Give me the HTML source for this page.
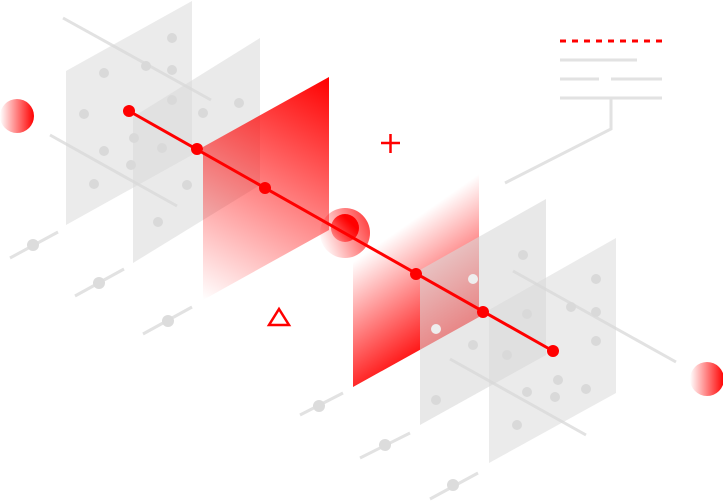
<!DOCTYPE html>
<html><head><meta charset="utf-8"><style>html,body{margin:0;padding:0;background:#fff}svg{display:block}</style></head><body>
<svg width="723" height="501" viewBox="0 0 723 501" xmlns="http://www.w3.org/2000/svg">
<defs>
<linearGradient id="r1" x1="329" y1="77" x2="203" y2="300" gradientUnits="userSpaceOnUse"><stop offset="0" stop-color="#f00"/><stop offset="1" stop-color="#f00" stop-opacity="0"/></linearGradient>
<linearGradient id="r2" x1="370" y1="250" x2="440" y2="350" gradientUnits="userSpaceOnUse"><stop offset="0" stop-color="#f00" stop-opacity="0"/><stop offset="1" stop-color="#f00"/></linearGradient>
<linearGradient id="sph" x1="0" y1="0" x2="1" y2="0"><stop offset="0" stop-color="#f00" stop-opacity="0"/><stop offset="1" stop-color="#f00"/></linearGradient>
<linearGradient id="ring" x1="0" y1="0.7" x2="1" y2="0.3"><stop offset="0" stop-color="#f00" stop-opacity="0"/><stop offset="1" stop-color="#f00" stop-opacity="0.75"/></linearGradient>
<linearGradient id="inner" x1="0" y1="1" x2="1" y2="0"><stop offset="0" stop-color="#f00" stop-opacity="0.2"/><stop offset="0.7" stop-color="#f00"/></linearGradient>
</defs>
<g stroke="#e2e2e2" stroke-width="3" fill="none">
<line x1="63" y1="18" x2="211" y2="100"/><line x1="50" y1="135" x2="177" y2="206"/>
<line x1="513" y1="271" x2="676" y2="362"/><line x1="450" y1="359" x2="586" y2="435"/>
<line x1="560" y1="60" x2="637" y2="60"/><line x1="560" y1="79" x2="599" y2="79"/><line x1="611" y1="79" x2="662" y2="79"/><line x1="560" y1="98" x2="662" y2="98"/>
<polyline points="611,98 611,129 505,183"/>
<line x1="10" y1="258" x2="58" y2="232"/><line x1="75" y1="296" x2="124" y2="269"/><line x1="143" y1="334" x2="192" y2="307"/>
<line x1="300" y1="415" x2="343" y2="393"/><line x1="360" y1="458" x2="410" y2="433"/><line x1="430" y1="499" x2="478" y2="473"/>
</g>
<line x1="560" y1="41" x2="662" y2="41" stroke="#f00" stroke-width="3" stroke-dasharray="6,6"/>
<g fill="#dcdcdc"><circle cx="33" cy="245" r="6"/><circle cx="99" cy="283" r="6"/><circle cx="168" cy="321" r="6"/><circle cx="319" cy="406" r="6"/><circle cx="385" cy="445" r="6"/><circle cx="453" cy="485" r="6"/></g>
<polygon points="66,71 192,1 192,155 66,225" fill="#d8d8d8" fill-opacity="0.5"/>
<polygon points="133,117 260,38 260,185 133,263" fill="#d8d8d8" fill-opacity="0.55"/>
<g fill="#d9d9d9">
<circle cx="172" cy="38" r="5"/><circle cx="104" cy="73" r="5"/><circle cx="172" cy="70" r="5"/><circle cx="146" cy="66" r="5"/><circle cx="84" cy="114" r="5"/><circle cx="104" cy="151" r="5"/><circle cx="94" cy="184" r="5"/><circle cx="172" cy="100" r="5"/><circle cx="239" cy="103" r="5"/><circle cx="203" cy="113" r="5"/><circle cx="134" cy="138" r="5"/><circle cx="162" cy="148" r="5"/><circle cx="131" cy="165" r="5"/><circle cx="187" cy="185" r="5"/><circle cx="158" cy="222" r="5"/>
</g>
<polygon points="203,147 329,77 329,230 203,300" fill="url(#r1)"/>
<circle cx="345" cy="233" r="25" fill="url(#ring)"/>
<circle cx="345" cy="228" r="14" fill="url(#inner)"/>
<polygon points="353,232 479,162 479,317 353,387" fill="url(#r2)"/>
<polygon points="420,270 546,199 546,355 420,425" fill="#d8d8d8" fill-opacity="0.6"/>
<polygon points="489,310 616,238 616,393 489,463" fill="#d8d8d8" fill-opacity="0.5"/>
<g fill="#d9d9d9">
<circle cx="523" cy="255" r="5"/><circle cx="527" cy="314" r="5"/><circle cx="596" cy="279" r="5"/><circle cx="596" cy="312" r="5"/><circle cx="571" cy="307" r="5"/><circle cx="596" cy="341" r="5"/><circle cx="507" cy="355" r="5"/><circle cx="558" cy="380" r="5"/><circle cx="586" cy="389" r="5"/><circle cx="527" cy="392" r="5"/><circle cx="555" cy="397" r="5"/><circle cx="436" cy="400" r="5"/><circle cx="517" cy="425" r="5"/><circle cx="473" cy="345" r="5"/>
</g>
<g fill="#eee"><circle cx="473" cy="279" r="5"/><circle cx="436" cy="329" r="5"/></g>
<circle cx="17" cy="116" r="17" fill="url(#sph)"/>
<circle cx="707" cy="379" r="17" fill="url(#sph)"/>
<line x1="129" y1="111" x2="553" y2="351" stroke="#f00" stroke-width="3"/>
<g fill="#f00"><circle cx="129" cy="111" r="6"/><circle cx="197" cy="149" r="6"/><circle cx="265" cy="188" r="6"/><circle cx="416" cy="274" r="6"/><circle cx="483" cy="312" r="6"/><circle cx="553" cy="351" r="6"/></g>
<g stroke="#f00" stroke-width="2.5" fill="none">
<line x1="381" y1="143" x2="400" y2="143"/><line x1="390.5" y1="134" x2="390.5" y2="153"/>
<polygon points="279,309 289,325 269,325"/>
</g>
</svg>
</body></html>
